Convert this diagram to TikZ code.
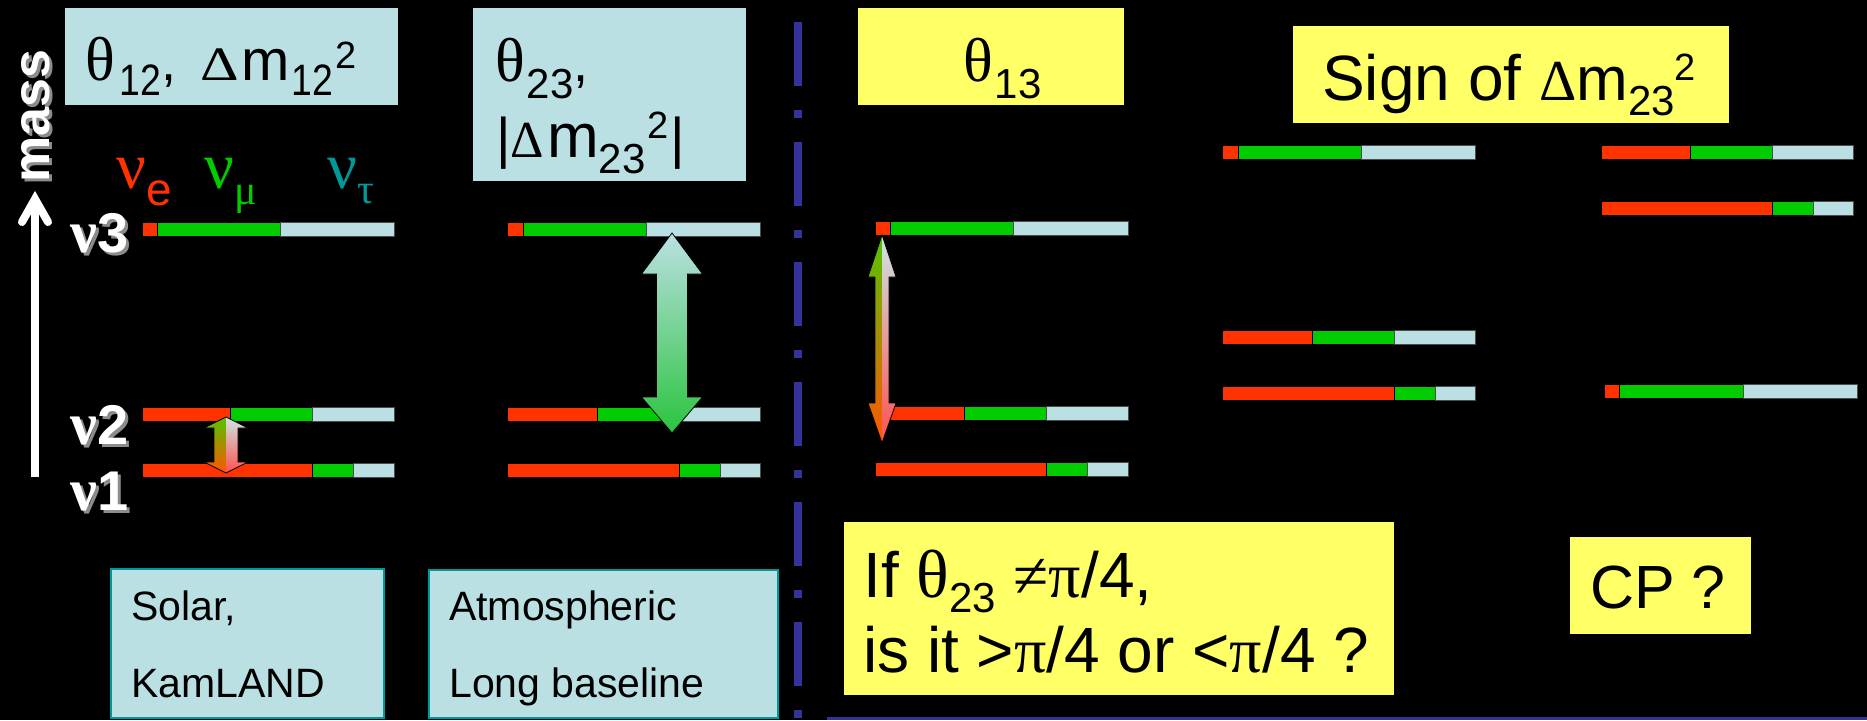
\documentclass[tikz,border=0pt]{standalone}
\usepackage{fontspec}
\setmainfont{Liberation Sans}
\newfontfamily\grk{Liberation Serif}
\usetikzlibrary{arrows.meta}
\definecolor{nured}{HTML}{FF3300}
\definecolor{nugreen}{HTML}{00CC00}
\definecolor{nulb}{HTML}{BBE0E3}
\definecolor{nuteal}{HTML}{009999}
\definecolor{nublue}{HTML}{333399}
\definecolor{panelyel}{HTML}{FFFF66}
\definecolor{arrgreen}{HTML}{55C400}
\definecolor{arrorange}{HTML}{FF5500}
\definecolor{arrpale}{HTML}{CDE6E6}
\definecolor{arrpink}{HTML}{FF5050}
\definecolor{arrdeep}{HTML}{2BC43F}
\definecolor{shadowgray}{HTML}{8C8C8C}
\newcommand\fs[1]{\fontsize{#1}{#1}\selectfont}
\newcommand\nubar[5]{%
  \path[fill=nured,draw=black,line width=1pt] (#1,#5) rectangle (#2,#5+14);
  \path[fill=nugreen,draw=black,line width=1pt] (#2,#5) rectangle (#3,#5+14);
  \path[fill=nulb,draw=black!70,line width=1pt] (#3,#5) rectangle (#4,#5+14);
}
\tikzset{
  lbbox/.style={fill=nulb, inner sep=0pt, anchor=north west},
  ylbox/.style={fill=panelyel, inner sep=0pt, anchor=north west},
  srcbox/.style={fill=nulb, draw=nuteal, line width=2pt, inner sep=0pt, anchor=north west},
  txt/.style={inner sep=0pt, anchor=base west, text=black},
  wlab/.style={inner sep=0pt, anchor=base west, text=white, font=\bfseries},
  slab/.style={inner sep=0pt, anchor=base west, text=shadowgray, font=\bfseries},
  arrowline/.style={draw=black, line width=0.8pt},
}
\begin{document}
\begin{tikzpicture}[x=1pt,y=-1pt]
\useasboundingbox (0,0) rectangle (1867,720);
\fill[black] (0,0) rectangle (1867,720);

% divider
\coordinate (dtop) at (798,22);
\coordinate (dbot) at (798,730);
\draw[nublue, line width=8pt, dash pattern=on 64pt off 24pt on 8pt off 24pt] (dtop) -- (dbot);
\coordinate (bl) at (827,718.5);
\coordinate (br) at (1867,718.5);
\draw[nublue, line width=3pt] (bl) -- (br);

% boxes
\node[lbbox, minimum width=333pt, minimum height=97pt] (box12) at (65,8) {};
\node[lbbox, minimum width=273pt, minimum height=173pt] (box23) at (473,8) {};
\node[ylbox, minimum width=266pt, minimum height=97pt] (box13) at (858,8) {};
\node[ylbox, minimum width=436pt, minimum height=97pt] (boxsign) at (1293,26) {};
\node[srcbox, minimum width=273pt, minimum height=149pt] (boxsolar) at (110,568) {};
\node[srcbox, minimum width=349pt, minimum height=148pt] (boxatm) at (428,569) {};
\node[ylbox, minimum width=550pt, minimum height=173pt] (boxif) at (844,522) {};
\node[ylbox, minimum width=181pt, minimum height=97pt] (boxcp) at (1570,537) {};

% box texts
\node[txt] (t12) at (85,80) {{\grk\fs{62}θ}\kern5pt\raisebox{-15pt}{\scalebox{0.85}[1]{\fs{44}12}}{\fs{54},}\hspace{24pt}{\grk\fs{48}\scalebox{1.25}[1]{Δ}}\kern2pt{\fs{58}m}\kern2pt\raisebox{-15pt}{\scalebox{0.85}[1]{\fs{44}12}}\kern2pt\raisebox{12pt}{\fs{38}2}};
\node[txt] (t23a) at (495,81) {{\grk\fs{62}θ}\kern2pt\raisebox{-17pt}{\fs{42}23}{\fs{54},}};
\node[txt] (t23b) at (496,157) {{\fs{56}|}{\grk\fs{52}Δ}\kern3pt{\fs{62}m}\raisebox{-16pt}{\fs{42}23}\kern2pt\raisebox{19pt}{\fs{38}2}\kern2pt{\fs{56}|}};
\node[txt] (t13) at (963,81) {{\grk\fs{62}θ}\kern2pt\raisebox{-17pt}{\fs{42}13}};
\node[txt] (tsign) at (1322,100) {{\fs{64}Sign of }{\grk\fs{58}Δ}{\fs{62}m}\raisebox{-15pt}{\fs{42}23}\raisebox{20pt}{\fs{38}2}};
\node[txt] (tsol1) at (131,620) {\fs{41}Solar,};
\node[txt] (tsol2) at (131,697) {\fs{41}KamLAND};
\node[txt] (tatm1) at (449,620) {\fs{41}Atmospheric};
\node[txt] (tatm2) at (449,697) {\fs{41}Long baseline};
\node[txt] (tif1) at (863,597) {{\fs{64}If }{\grk\fs{68}θ}\raisebox{-15pt}{\fs{42}23}\hspace{18pt}{\grk\fs{64}≠π}{\fs{64}/4,}};
\node[txt] (tif2) at (863,672) {{\fs{64}is it >}{\grk\fs{64}π}{\fs{64}/4 or <}{\grk\fs{64}π}{\fs{64}/4 ?}};
\node[txt] (tcp) at (1590,608) {\fs{61}CP ?};

% flavour labels
\node[txt, text=nured] (lnue) at (116,188) {{\grk\fs{66}ν}\raisebox{-17pt}{\fs{46}e}};
\node[txt, text=nugreen] (lnumu) at (204,188) {{\grk\fs{66}ν}\raisebox{-16pt}{\grk\fs{42}μ}};
\node[txt, text=nuteal] (lnutau) at (327,188) {{\grk\fs{66}ν}\raisebox{-15pt}{\grk\fs{42}τ}};

% mass axis
\coordinate (mbot) at (35,477);
\coordinate (mtop) at (35,205);
\coordinate (mtip) at (35,199);
\coordinate (mleft) at (22,222);
\coordinate (mright) at (48,222);
\draw[white, line width=8pt] (mbot) -- (mtop);
\draw[white, line width=8pt, line cap=round, line join=miter] (mleft) -- (mtip) -- (mright);
\node[slab, rotate=90, anchor=base] (masss) at (52,119) {\fs{52}mass};
\node[wlab, rotate=90, anchor=base] (mass) at (49,116) {\fs{52}mass};

% nu labels
\node[slab] (n3s) at (73,255) {{\grk\fs{60}ν}{\fs{56}3}};
\node[wlab] (n3) at (70,252) {{\grk\fs{60}ν}{\fs{56}3}};
\node[slab] (n2s) at (73,447) {{\grk\fs{60}ν}{\fs{56}2}};
\node[wlab] (n2) at (70,444) {{\grk\fs{60}ν}{\fs{56}2}};
\node[slab] (n1s) at (73,513) {{\grk\fs{60}ν}{\fs{56}1}};
\node[wlab] (n1) at (70,510) {{\grk\fs{60}ν}{\fs{56}1}};

% bars panel 1
\nubar{142}{157}{280}{394}{222}
\nubar{142}{230}{312}{394}{407}
\nubar{142}{312}{353}{394}{463}
% bars panel 2
\nubar{507}{523}{646}{760}{222}
\nubar{507}{597}{679}{760}{407}
\nubar{507}{679}{720}{760}{463}
% bars panel 3
\nubar{875}{890}{1013}{1128}{221}
\nubar{875}{964}{1046}{1128}{406}
\nubar{875}{1046}{1087}{1128}{462}
% bars panel 4 left
\nubar{1222}{1238}{1361}{1475}{145}
\nubar{1222}{1312}{1394}{1475}{330}
\nubar{1222}{1394}{1435}{1475}{386}
% bars panel 4 right
\nubar{1601}{1690}{1772}{1853}{145}
\nubar{1601}{1772}{1813}{1853}{201}
\nubar{1604}{1619}{1743}{1857}{384}

% arrow panel 1
\shade[top color=arrgreen, bottom color=arrorange] (226,417) -- (204,428) -- (214,428) -- (214,462) -- (204,462) -- (226,473) -- cycle;
\shade[top color=arrpale, bottom color=arrpink] (226,417) -- (248,428) -- (238,428) -- (238,462) -- (248,462) -- (226,473) -- cycle;
\draw[arrowline] (226,417) -- (248,428) -- (238,428) -- (238,462) -- (248,462) -- (226,473) -- (204,462) -- (214,462) -- (214,428) -- (204,428) -- cycle;

% arrow panel 2
\shadedraw[top color=nulb, bottom color=arrdeep, draw=black, line width=0.8pt] (672,233) -- (702.5,274) -- (687.5,274) -- (687.5,397) -- (702.5,397) -- (672,433) -- (641.5,397) -- (656.5,397) -- (656.5,274) -- (641.5,274) -- cycle;

% arrow panel 3
\shade[top color=arrgreen, bottom color=arrorange] (882,235) -- (868,277) -- (875,277) -- (875,403) -- (868,403) -- (882,443) -- cycle;
\shade[top color=arrpale, bottom color=arrpink] (882,235) -- (896,277) -- (889,277) -- (889,403) -- (896,403) -- (882,443) -- cycle;
\draw[arrowline] (882,235) -- (896,277) -- (889,277) -- (889,403) -- (896,403) -- (882,443) -- (868,403) -- (875,403) -- (875,277) -- (868,277) -- cycle;
\end{tikzpicture}
\end{document}
